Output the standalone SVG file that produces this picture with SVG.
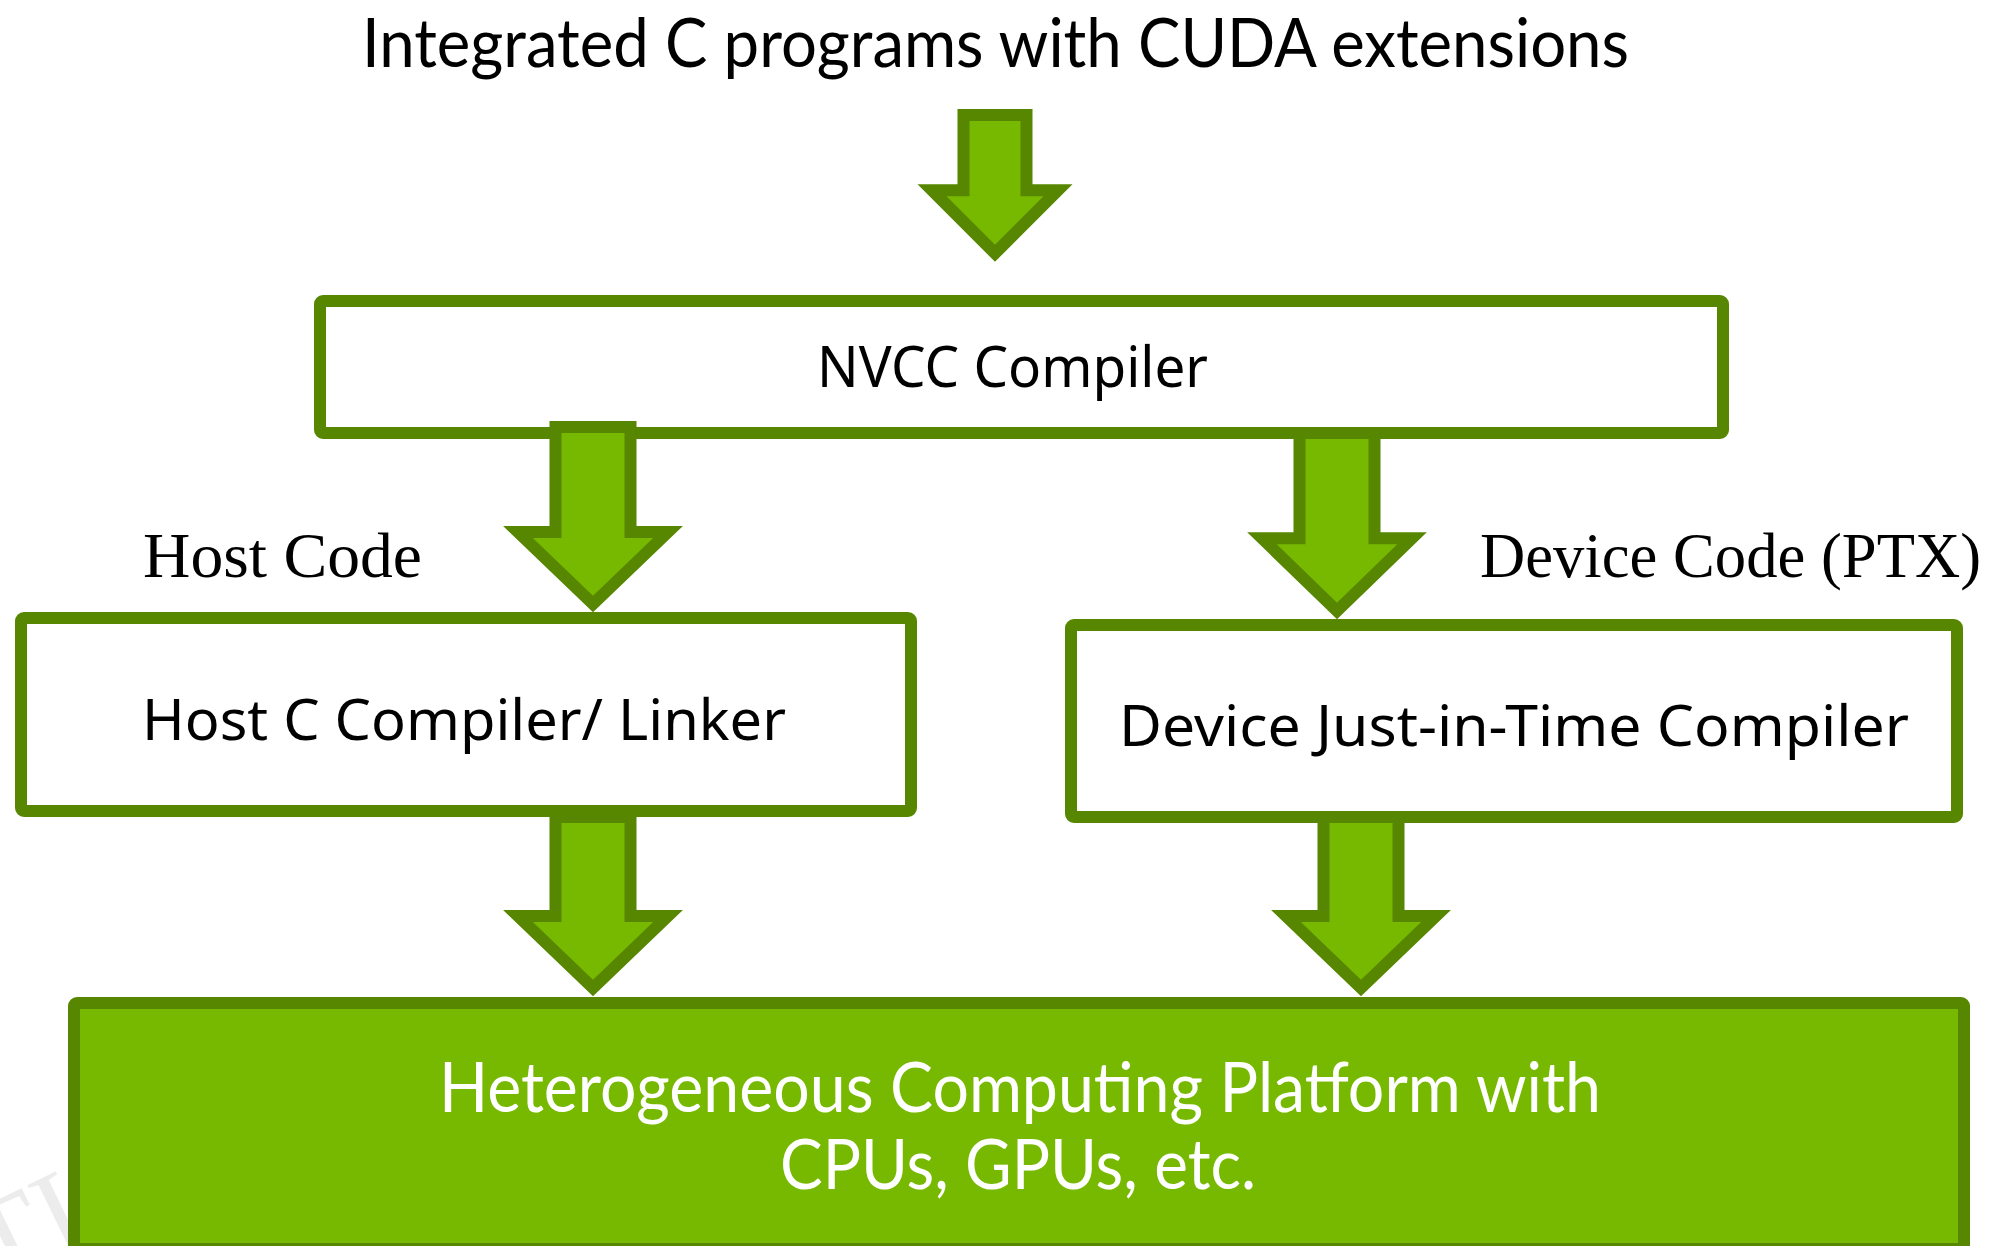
<svg xmlns="http://www.w3.org/2000/svg" width="1989" height="1246" viewBox="0 0 1989 1246">
<defs>
<style>
.box{fill:#ffffff;stroke:#578600;stroke-width:12}
.plat{fill:#76b900;stroke:#578600;stroke-width:12}
.arr{fill:#76b900;stroke:#578600;stroke-width:12;stroke-linejoin:miter;stroke-miterlimit:10}
.sans{font-family:"Noto Sans","DejaVu Sans",sans-serif;fill:#000}
.cal{font-family:Lato,"Open Sans",sans-serif;fill:#000}
.serif{font-family:"Liberation Serif","DejaVu Serif",serif;fill:#000}
.wm{font-family:"Liberation Serif",serif;fill:#ececec}
</style>
</defs>
<rect x="0" y="0" width="1989" height="1246" fill="#ffffff"/>
<g id="watermark">
<text class="wm" x="-8" y="1290" font-size="120" transform="rotate(-26 -8 1290)">TI</text>
</g>
<g id="title">
<text class="cal" x="362" y="67" font-size="67" textLength="1267" lengthAdjust="spacingAndGlyphs">Integrated C programs with CUDA extensions</text>
</g>
<g id="nvcc">
<rect class="box" x="320" y="301" width="1403" height="132" rx="3"/>
<text class="sans" x="817" y="387" font-size="57" textLength="391" lengthAdjust="spacingAndGlyphs">NVCC Compiler</text>
</g>
<g id="host-label">
<text class="serif" x="143" y="577" font-size="64" textLength="279" lengthAdjust="spacingAndGlyphs">Host Code</text>
</g>
<g id="device-label">
<text class="serif" x="1480" y="577" font-size="64" textLength="501" lengthAdjust="spacingAndGlyphs">Device Code (PTX)</text>
</g>
<g id="host-compiler">
<rect class="box" x="21" y="618" width="890" height="193" rx="3"/>
<text class="sans" x="142" y="740" font-size="57" textLength="644" lengthAdjust="spacingAndGlyphs">Host C Compiler/ Linker</text>
</g>
<g id="device-compiler">
<rect class="box" x="1071" y="625" width="886" height="192" rx="3"/>
<text class="sans" x="1119" y="746" font-size="57" textLength="790" lengthAdjust="spacingAndGlyphs">Device Just-in-Time Compiler</text>
</g>
<g id="platform">
<rect class="plat" x="74" y="1003" width="1890" height="246" rx="3"/>
<text class="cal" x="439" y="1112" font-size="69" style="fill:#ffffff" textLength="1162" lengthAdjust="spacingAndGlyphs">Heterogeneous Computing Platform with</text>
<text class="cal" x="780" y="1189" font-size="69" style="fill:#ffffff" textLength="476" lengthAdjust="spacingAndGlyphs">CPUs, GPUs, etc.</text>
</g>
<g id="connectors">
<polygon class="arr" points="963.5,115 1026.5,115 1026.5,190.3 1058,190.3 995,253.3 932,190.3 963.5,190.3"/>
<polygon class="arr" points="555.5,427 630.5,427 630.5,532 668,532 593,604 518,532 555.5,532"/>
<polygon class="arr" points="1299.5,433 1374.5,433 1374.5,538.3 1412,538.3 1337,611 1262,538.3 1299.5,538.3"/>
<polygon class="arr" points="555.5,817 630.5,817 630.5,916 668,916 593,988 518,916 555.5,916"/>
<polygon class="arr" points="1323.5,817 1398.5,817 1398.5,916 1436,916 1361,988 1286,916 1323.5,916"/>
</g>
</svg>
